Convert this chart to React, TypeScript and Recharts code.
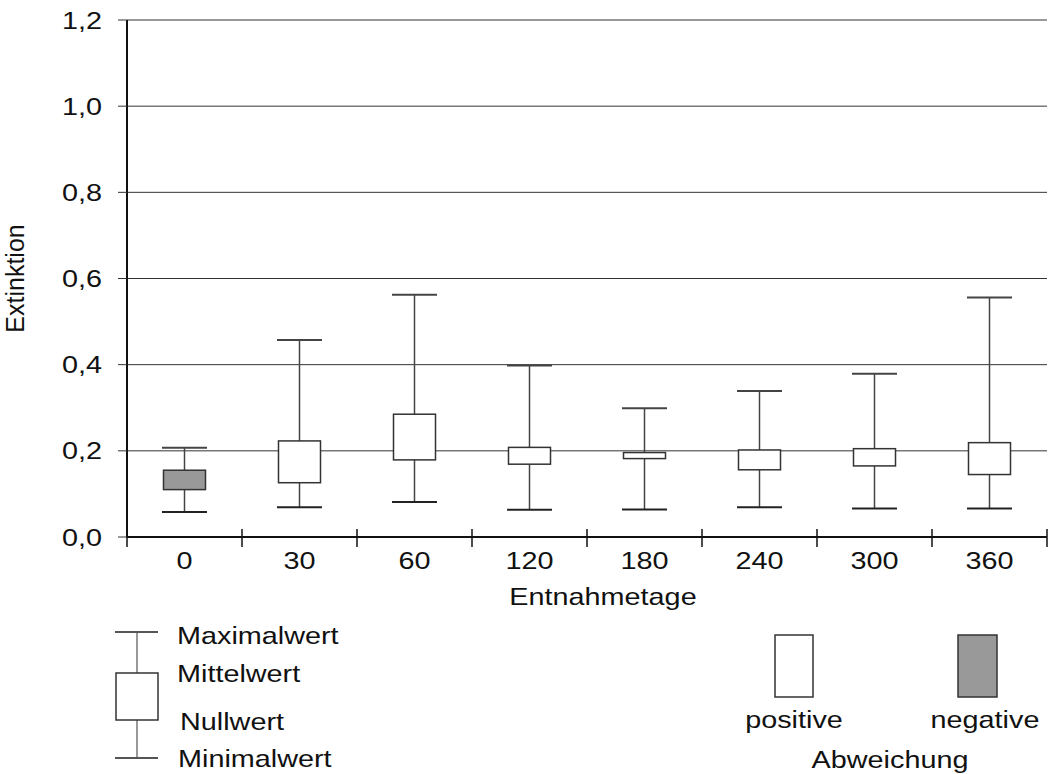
import React from 'react';
import { BarChart, Bar, XAxis, YAxis, CartesianGrid } from 'recharts';

// Extinktion je Entnahmetag: Minimal-, Maximal-, Mittel- und Nullwert
const tage = ['0', '30', '60', '120', '180', '240', '300', '360'];
const maximalwert = [0.207, 0.457, 0.562, 0.398, 0.299, 0.339, 0.379, 0.556];
const mittelwert = [0.11, 0.223, 0.285, 0.208, 0.196, 0.202, 0.205, 0.219];
const nullwert = [0.155, 0.126, 0.179, 0.169, 0.182, 0.156, 0.165, 0.145];
const minimalwert = [0.058, 0.069, 0.081, 0.063, 0.064, 0.069, 0.066, 0.066];
const yTicks = [0, 0.2, 0.4, 0.6, 0.8, 1.0, 1.2];

const FONT = '"Liberation Sans", Arial, sans-serif';
const FONT_SIZE = 24;
const STRETCH = 1.2; // wide glyphs, as in the original export
const POSITIVE_FILL = '#ffffff';
const NEGATIVE_FILL = '#999999';

const data = tage.map((tag, i) => ({
  tag,
  max: maximalwert[i],
  min: minimalwert[i],
  mittel: mittelwert[i],
  null: nullwert[i],
}));

const fmt = (v: number) => v.toFixed(1).replace('.', ',');

// Horizontally stretched text anchored at (x, y)
function WideText({ x, y, anchor = 'start', baseline, dy, children }: any) {
  return (
    <text
      transform={`translate(${x},${y}) scale(${STRETCH},1)`}
      textAnchor={anchor}
      dominantBaseline={baseline}
      dy={dy}
      fontFamily={FONT}
      fontSize={FONT_SIZE}
      fill="#111"
    >
      {children}
    </text>
  );
}

// Box between Nullwert and Mittelwert, whisker from Minimal- to Maximalwert.
// The bar itself spans [min, max], so values inside are mapped linearly onto it.
function BoxShape(props: any) {
  const { x, y, width, height, payload } = props;
  const top = Math.min(y, y + height);
  const h = Math.abs(height);
  const span = payload.max - payload.min;
  const py = (v: number) => top + ((payload.max - v) / span) * h;
  const cx = x + width / 2;
  const hi = Math.max(payload.mittel, payload.null);
  const lo = Math.min(payload.mittel, payload.null);
  const negative = payload.mittel < payload.null;
  return (
    <g>
      <line x1={cx} x2={cx} y1={py(payload.max)} y2={py(payload.min)} stroke="#444" strokeWidth={1.5} />
      <line x1={x} x2={x + width} y1={py(payload.max)} y2={py(payload.max)} stroke="#444" strokeWidth={2} />
      <line x1={x} x2={x + width} y1={py(payload.min)} y2={py(payload.min)} stroke="#222" strokeWidth={2} />
      <rect
        x={x + 1.5}
        y={py(hi)}
        width={width - 3}
        height={py(lo) - py(hi)}
        fill={negative ? NEGATIVE_FILL : POSITIVE_FILL}
        stroke="#333"
        strokeWidth={1.5}
      />
    </g>
  );
}

// Category label plus a separator tick at the band boundary
function TagTick(props: any) {
  const { x, y, payload, index } = props;
  const half = payload.offset ?? 57.5;
  const axisY = y - 13;
  return (
    <g>
      <line x1={x - half} x2={x - half} y1={axisY - 8} y2={axisY + 10} stroke="#111" strokeWidth={1.5} />
      {index === tage.length - 1 && (
        <line x1={x + half} x2={x + half} y1={axisY - 8} y2={axisY + 10} stroke="#111" strokeWidth={1.5} />
      )}
      <WideText x={x} y={y + 2} anchor="middle" dy="0.71em">
        {payload.value}
      </WideText>
    </g>
  );
}

function ValueTick(props: any) {
  const { x, y, payload } = props;
  return (
    <WideText x={x} y={y} anchor="end" dy="0.355em">
      {fmt(payload.value)}
    </WideText>
  );
}

function XTitle(props: any) {
  const { viewBox } = props;
  const cx = viewBox.x + viewBox.width / 2 + 16;
  return (
    <WideText x={cx} y={viewBox.y + viewBox.height - 2} anchor="middle">
      Entnahmetage
    </WideText>
  );
}

function Legende() {
  return (
    <svg width={1051} height={774} style={{ position: 'absolute', left: 0, top: 0, pointerEvents: 'none' }}>
      <line x1={137} x2={137} y1={632} y2={758} stroke="#333" strokeWidth={1} />
      <line x1={115} x2={158} y1={632} y2={632} stroke="#555" strokeWidth={2} />
      <line x1={115} x2={158} y1={758} y2={758} stroke="#555" strokeWidth={2} />
      <rect x={116} y={673} width={42} height={47} fill="#fff" stroke="#333" strokeWidth={1.5} />
      <WideText x={177} y={636} baseline="central">Maximalwert</WideText>
      <WideText x={177} y={674} baseline="central">Mittelwert</WideText>
      <WideText x={180} y={722} baseline="central">Nullwert</WideText>
      <WideText x={178} y={759} baseline="central">Minimalwert</WideText>

      <rect x={775} y={635} width={38} height={62} fill={POSITIVE_FILL} stroke="#333" strokeWidth={1.5} />
      <rect x={958} y={635} width={39} height={62} fill={NEGATIVE_FILL} stroke="#333" strokeWidth={1.5} />
      <WideText x={794} y={720} anchor="middle" baseline="central">positive</WideText>
      <WideText x={985} y={720} anchor="middle" baseline="central">negative</WideText>
      <WideText x={890} y={760} anchor="middle" baseline="central">Abweichung</WideText>
    </svg>
  );
}

export default function App() {
  return (
    <div style={{ position: 'absolute', left: 0, top: 0, width: 1051, height: 774, background: '#fff' }}>
      <BarChart width={1051} height={774} data={data} margin={{ top: 20, right: 4, left: 0, bottom: 167 }}>
        <CartesianGrid horizontal vertical={false} stroke="#333" strokeWidth={1} />
        <XAxis
          dataKey="tag"
          height={70}
          axisLine={{ stroke: '#111', strokeWidth: 2 }}
          tickLine={false}
          tickSize={8}
          tickMargin={5}
          interval={0}
          tick={<TagTick />}
          label={<XTitle />}
        />
        <YAxis
          width={127}
          domain={[0, 1.2]}
          ticks={yTicks}
          axisLine={{ stroke: '#111', strokeWidth: 2 }}
          tickLine={{ stroke: '#333' }}
          tickSize={9}
          tickMargin={16}
          tick={<ValueTick />}
          label={{
            value: 'Extinktion',
            angle: -90,
            position: 'insideLeft',
            offset: 15,
            style: { fontFamily: FONT, fontSize: 25, fill: '#111', textAnchor: 'middle' },
          }}
        />
        <Bar
          dataKey={(d: any) => [d.min, d.max]}
          barSize={45}
          shape={<BoxShape />}
          isAnimationActive={false}
        />
      </BarChart>
      <Legende />
    </div>
  );
}
